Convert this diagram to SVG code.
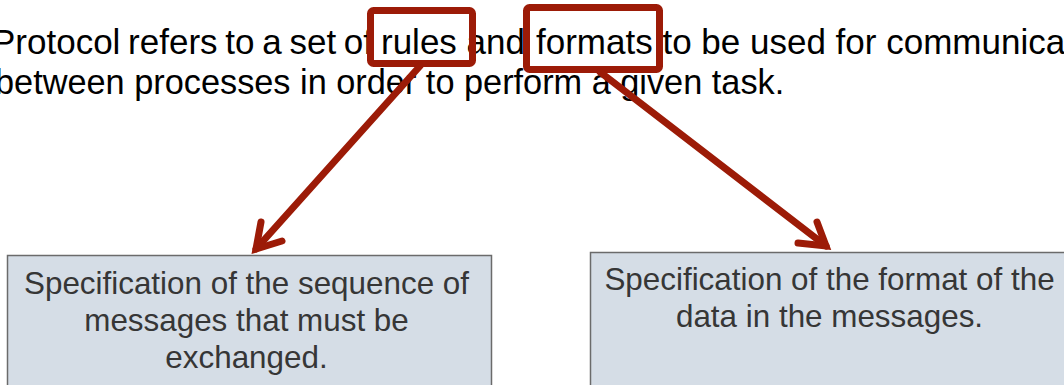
<svg xmlns="http://www.w3.org/2000/svg" width="1064" height="385" viewBox="0 0 1064 385">
  <style>
    .head { font-family: "Liberation Sans", Arial, sans-serif; font-size: 35px; fill: #000000; }
    .box { fill: #d5dde6; stroke: #6b6b6b; stroke-width: 1.5; }
    .btxt { font-family: "Liberation Sans", Arial, sans-serif; font-size: 31.4px; fill: #363636; text-anchor: middle; }
    .hl { fill: none; stroke: #9c1b07; stroke-width: 7; stroke-linejoin: round; }
    .arr { fill: none; stroke: #9c1b07; stroke-width: 7; stroke-linecap: round; stroke-linejoin: miter; stroke-miterlimit: 10; }
  </style>
  <rect width="1064" height="385" fill="#ffffff"/>
  <g id="header">
    <text class="head" y="54"><tspan x="-8" word-spacing="-2">Protocol refers to a set of </tspan><tspan x="381">rules and </tspan><tspan x="536">formats to be used for communication</tspan></text>
    <text class="head" x="-5" y="94" style="font-size:34.3px">between processes in order to perform a given task.</text>
    <rect class="hl" x="370.5" y="10.5" width="102" height="53" rx="3"/>
    <rect class="hl" x="526.5" y="7.5" width="133" height="62" rx="3"/>
  </g>
  <g id="node-sequence">
    <rect class="box" x="7.5" y="255.5" width="484" height="140"/>
    <text class="btxt" x="246.5" y="294">Specification of the sequence of</text>
    <text class="btxt" x="246.5" y="331">messages that must be</text>
    <text class="btxt" x="246.5" y="368">exchanged.</text>
  </g>
  <g id="node-format">
    <rect class="box" x="590.5" y="252.5" width="500" height="140"/>
    <text class="btxt" x="829.5" y="290">Specification of the format of the</text>
    <text class="btxt" x="829.5" y="327">data in the messages.</text>
  </g>
  <g id="connectors">
    <path class="arr" d="M420,66 L256,249"/>
    <path class="arr" d="M261,222 L256,249 L282,241"/>
    <path class="arr" d="M600,72 L826,246"/>
    <path class="arr" d="M817,222 L826,246 L798,243"/>
  </g>
</svg>
